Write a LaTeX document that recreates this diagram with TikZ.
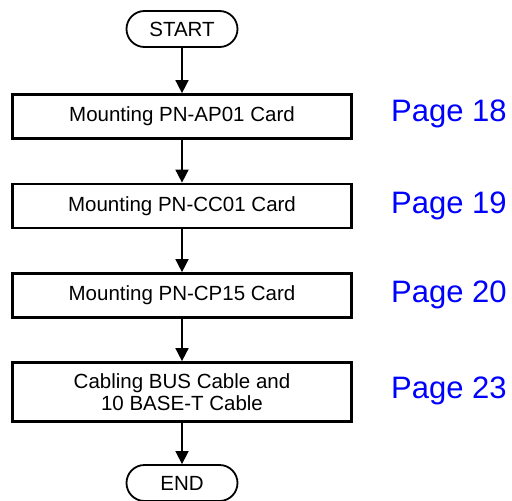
\documentclass[tikz,border=0pt]{standalone}
\usepackage{fontspec}
\setmainfont{Liberation Sans}
\usetikzlibrary{arrows.meta}
\definecolor{pageblue}{RGB}{0,0,255}

\begin{document}
\begin{tikzpicture}[x=1pt,y=-1pt,
	terminal/.style={shape=rectangle,rounded corners=18pt,draw=black,line width=1.8pt,minimum width=111pt,minimum height=36pt,inner sep=0pt,font=\fontsize{20.5}{22}\selectfont},
	stepbox/.style={shape=rectangle,draw=black,line width=2.7pt,minimum width=339pt,minimum height=44pt,inner sep=0pt,align=center,font=\fontsize{20.5}{22}\selectfont},
	pageref/.style={anchor=base west,text=pageblue,inner sep=0pt,font=\fontsize{31}{34}\selectfont},
	flow/.style={-{Triangle[length=13pt,width=13pt]},line width=1.6pt}]
	\useasboundingbox (0,0) rectangle (512,501);

	\node[terminal] (start) at (182, 29)    {START};
	\node[stepbox]  (ap01)  at (182, 116.5) {Mounting PN-AP01 Card};
	\node[stepbox]  (cc01)  at (182, 206)   {Mounting PN-CC01 Card};
	\node[stepbox]  (cp15)  at (182, 295.5) {Mounting PN-CP15 Card};
	\node[stepbox,minimum height=59pt] (cable) at (182, 392) {Cabling BUS Cable and\\10 BASE-T Cable};
	\node[terminal] (end)   at (182, 483)   {END};

	\node[pageref] (p18) at (391, 121) {Page 18};
	\node[pageref] (p19) at (391, 213) {Page 19};
	\node[pageref] (p20) at (391, 302) {Page 20};
	\node[pageref] (p23) at (391, 398) {Page 23};

	\path[flow] (start) edge (ap01);
	\path[flow] (ap01)  edge (cc01);
	\path[flow] (cc01)  edge (cp15);
	\path[flow] (cp15)  edge (cable);
	\path[flow] (cable) edge (end);

\end{tikzpicture}
\end{document}
